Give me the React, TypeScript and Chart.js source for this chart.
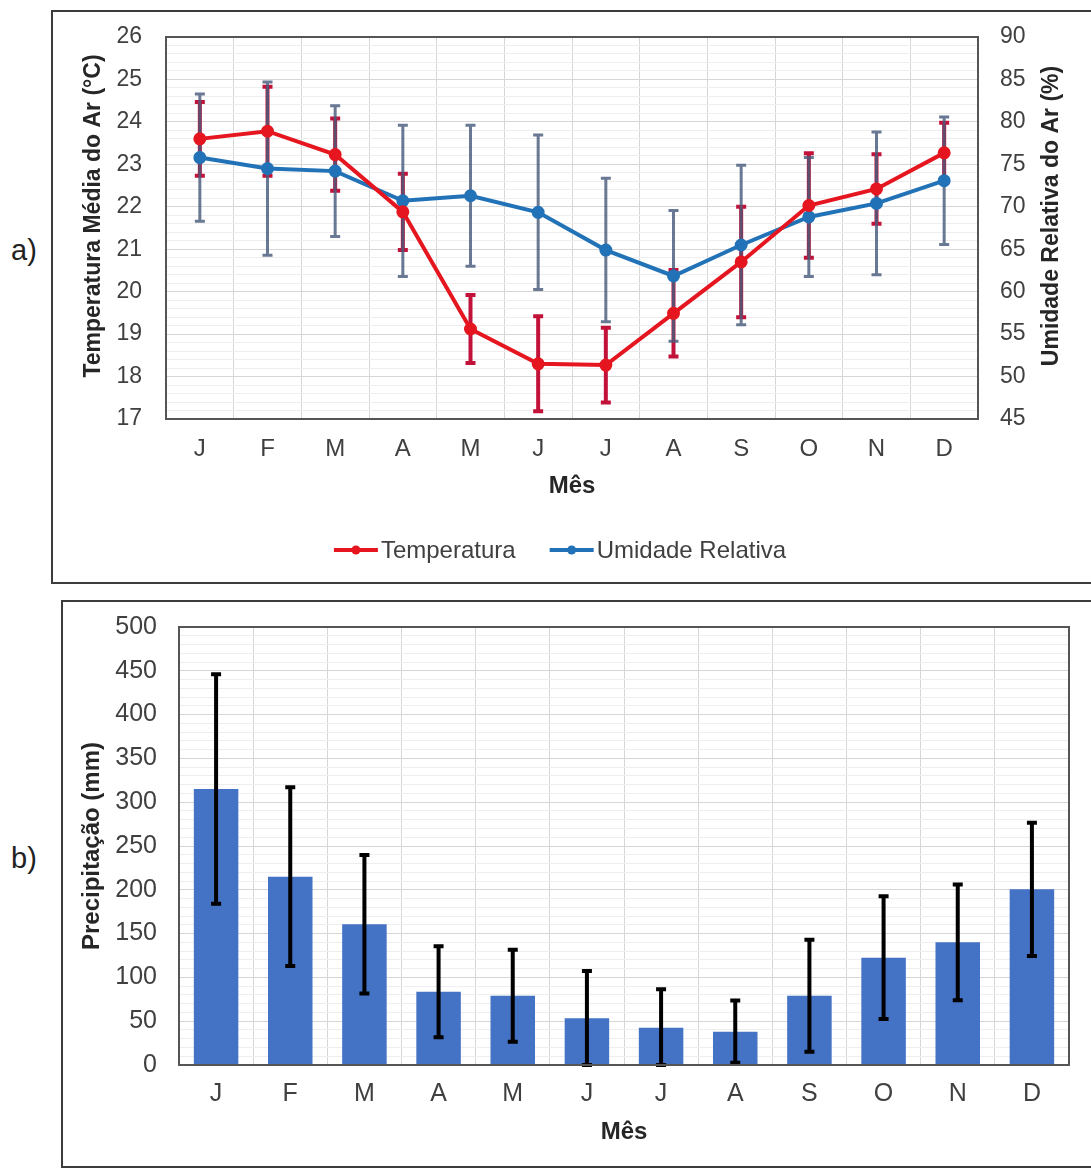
import React, { useEffect, useRef } from 'react';
import { Chart, registerables } from 'chart.js';

Chart.register(...registerables);

// ---------- data ----------
const months = ['J', 'F', 'M', 'A', 'M', 'J', 'J', 'A', 'S', 'O', 'N', 'D'];

const tempValues = [23.6, 23.78, 23.23, 21.88, 19.12, 18.3, 18.27, 19.49, 20.7, 22.03, 22.42, 23.27];
const tempErrors = [0.87, 1.05, 0.85, 0.9, 0.8, 1.12, 0.88, 1.02, 1.3, 1.23, 0.82, 0.71];

const humidityValues = [75.8, 74.5, 74.2, 70.7, 71.3, 69.35, 64.9, 61.85, 65.5, 68.8, 70.4, 73.07];
const humidityErrors = [7.5, 10.2, 7.7, 8.9, 8.3, 9.1, 8.45, 7.7, 9.4, 7.0, 8.4, 7.5];

const precipValues = [315, 215, 160.6, 83.7, 79, 53.3, 42.6, 38, 79, 122.5, 140, 200.5];
const precipErrors = [131, 102, 79, 52, 52.5, 54, 44, 35.5, 64, 70, 66, 76];

const tempAxisRange = [17, 26];
const humidityAxisRange = [45, 90];
const precipAxisRange = [0, 500];

const legendLabels = ['Temperatura', 'Umidade Relativa'];

// ---------- styles ----------
const FONT = '"Liberation Sans", Arial, sans-serif';
const RED = '#e5161f';
const BLUE = '#2272b8';
const RED_ERR = '#c2123a';
const BLUE_ERR = 'rgba(72,92,124,0.82)';
const BAR = '#4472C4';
const GRID = '#d6d6d6';
const MINOR = '#eeeeee';
const TICK = '#404040';
const TITLE = '#262626';

const isMultiple = (v: number, step: number) => Math.abs(v / step - Math.round(v / step)) < 1e-6;

const noPad = (s: any) => {
  s.paddingTop = 0;
  s.paddingBottom = 0;
  s.paddingLeft = 0;
  s.paddingRight = 0;
};

const framePlugin = {
  id: 'frame',
  afterDatasetsDraw(chart: any) {
    const { ctx, chartArea } = chart;
    ctx.save();
    ctx.strokeStyle = '#555555';
    ctx.lineWidth = 2;
    ctx.strokeRect(chartArea.left, chartArea.top, chartArea.right - chartArea.left, chartArea.bottom - chartArea.top);
    ctx.restore();
  },
};

const lineErrorPlugin = {
  id: 'lineErrors',
  beforeDatasetsDraw(chart: any) {
    const { ctx } = chart;
    const x = chart.scales.x;
    const specs = [
      { values: tempValues, errors: tempErrors, axis: 'yT', color: RED_ERR, width: 4, cap: 5 },
      { values: humidityValues, errors: humidityErrors, axis: 'yH', color: BLUE_ERR, width: 3, cap: 5 },
    ];
    ctx.save();
    specs.forEach((s) => {
      const y = chart.scales[s.axis];
      ctx.strokeStyle = s.color;
      ctx.lineWidth = s.width;
      s.values.forEach((v, i) => {
        const px = x.getPixelForValue(i);
        const top = y.getPixelForValue(v + s.errors[i]);
        const bot = y.getPixelForValue(v - s.errors[i]);
        ctx.beginPath();
        ctx.moveTo(px, top);
        ctx.lineTo(px, bot);
        ctx.moveTo(px - s.cap, top);
        ctx.lineTo(px + s.cap, top);
        ctx.moveTo(px - s.cap, bot);
        ctx.lineTo(px + s.cap, bot);
        ctx.stroke();
      });
    });
    ctx.restore();
  },
};

const barErrorPlugin = {
  id: 'barErrors',
  afterDatasetsDraw(chart: any) {
    const { ctx } = chart;
    const x = chart.scales.x;
    const y = chart.scales.y;
    ctx.save();
    ctx.strokeStyle = '#000000';
    ctx.lineWidth = 4;
    precipValues.forEach((v, i) => {
      const px = x.getPixelForValue(i);
      const top = y.getPixelForValue(v + precipErrors[i]);
      const bot = y.getPixelForValue(Math.max(precipAxisRange[0], v - precipErrors[i]));
      ctx.beginPath();
      ctx.moveTo(px, top);
      ctx.lineTo(px, bot);
      ctx.moveTo(px - 5, top);
      ctx.lineTo(px + 5, top);
      ctx.moveTo(px - 5, bot);
      ctx.lineTo(px + 5, bot);
      ctx.stroke();
    });
    ctx.restore();
  },
};

const topExtrasPlugin = {
  id: 'topExtras',
  afterDraw(chart: any) {
    const { ctx, chartArea } = chart;
    const midY = (chartArea.top + chartArea.bottom) / 2 - 12;
    ctx.save();
    // axis titles (both read bottom-to-top)
    ctx.fillStyle = TITLE;
    ctx.font = `bold 23px ${FONT}`;
    ctx.textAlign = 'center';
    ctx.textBaseline = 'middle';
    const titles = [
      { text: 'Temperatura Média do Ar (°C)', x: chartArea.left - 72 },
      { text: 'Umidade Relativa do Ar (%)', x: chartArea.right + 74 },
    ];
    titles.forEach((t) => {
      ctx.save();
      ctx.translate(t.x, midY);
      ctx.rotate(-Math.PI / 2);
      ctx.fillText(t.text, 0, 0);
      ctx.restore();
    });

    // legend
    const colors = [RED, BLUE];
    ctx.font = `24px ${FONT}`;
    ctx.textAlign = 'left';
    const lineW = 44;
    const gapText = 3;
    const gapItems = 34;
    const widths = legendLabels.map((l) => ctx.measureText(l).width);
    const total = widths.reduce((a, w) => a + lineW + gapText + w, 0) + gapItems;
    let cx = (chartArea.left + chartArea.right) / 2 - 12 - total / 2;
    const ly = chartArea.bottom + 131;
    legendLabels.forEach((label, i) => {
      ctx.strokeStyle = colors[i];
      ctx.fillStyle = colors[i];
      ctx.lineWidth = 4;
      ctx.beginPath();
      ctx.moveTo(cx, ly);
      ctx.lineTo(cx + lineW, ly);
      ctx.stroke();
      ctx.beginPath();
      ctx.arc(cx + lineW / 2, ly, 4.5, 0, Math.PI * 2);
      ctx.fill();
      ctx.fillStyle = TICK;
      ctx.fillText(label, cx + lineW + gapText, ly + 1);
      cx += lineW + gapText + widths[i] + gapItems;
    });
    ctx.restore();
  },
};

function TopChart() {
  const ref = useRef<HTMLCanvasElement | null>(null);
  useEffect(() => {
    if (!ref.current) return;
    const chart = new Chart(ref.current, {
      type: 'line',
      data: {
        labels: months,
        datasets: [
          {
            label: legendLabels[0],
            data: tempValues,
            yAxisID: 'yT',
            borderColor: RED,
            backgroundColor: RED,
            pointBackgroundColor: RED,
            pointBorderColor: RED,
            borderWidth: 4,
            pointRadius: 4.5,
            pointHoverRadius: 4.5,
            tension: 0,
          },
          {
            label: legendLabels[1],
            data: humidityValues,
            yAxisID: 'yH',
            borderColor: BLUE,
            backgroundColor: BLUE,
            pointBackgroundColor: BLUE,
            pointBorderColor: BLUE,
            borderWidth: 4,
            pointRadius: 4.5,
            pointHoverRadius: 4.5,
            tension: 0,
          },
        ],
      },
      options: {
        animation: false,
        responsive: false,
        maintainAspectRatio: false,
        layout: { padding: { left: 23, right: 24, top: 25, bottom: 77 } },
        plugins: { legend: { display: false }, tooltip: { enabled: false } },
        scales: {
          x: {
            type: 'category',
            offset: true,
            grid: { offset: true, color: GRID, drawTicks: false },
            border: { display: false },
            ticks: { padding: 16, autoSkip: false, maxRotation: 0, color: TICK, font: { family: FONT, size: 24 } },
            title: { display: true, text: 'Mês', color: TITLE, padding: 4, font: { family: FONT, size: 24, weight: 'bold' } },
            afterFit: (s: any) => { s.height = 86; noPad(s); },
          },
          yT: {
            type: 'linear',
            position: 'left',
            min: tempAxisRange[0],
            max: tempAxisRange[1],
            grid: {
              drawTicks: false,
              color: (c: any) => (isMultiple(c.tick.value, 1) ? GRID : MINOR),
            },
            border: { display: false },
            ticks: {
              stepSize: 0.2,
              autoSkip: false,
              padding: 24,
              color: TICK,
              font: { family: FONT, size: 23 },
              callback: (v: any) => (isMultiple(Number(v), 1) ? String(Math.round(Number(v))) : ''),
            },
            afterFit: (s: any) => { s.width = 90; noPad(s); },
          },
          yH: {
            type: 'linear',
            position: 'right',
            min: humidityAxisRange[0],
            max: humidityAxisRange[1],
            grid: { display: false, drawTicks: false },
            border: { display: false },
            ticks: { stepSize: 5, autoSkip: false, padding: 22, color: TICK, font: { family: FONT, size: 23 } },
            afterFit: (s: any) => { s.width = 89; noPad(s); },
          },
        },
      } as any,
      plugins: [lineErrorPlugin, framePlugin, topExtrasPlugin],
    });
    return () => chart.destroy();
  }, []);
  return <canvas ref={ref} width={1038} height={570} style={{ position: 'absolute', left: 53, top: 12, width: 1038, height: 570 }} />;
}

function BottomChart() {
  const ref = useRef<HTMLCanvasElement | null>(null);
  useEffect(() => {
    if (!ref.current) return;
    const chart = new Chart(ref.current, {
      type: 'bar',
      data: {
        labels: months,
        datasets: [
          {
            label: 'Precipitação',
            data: precipValues,
            backgroundColor: BAR,
            borderWidth: 0,
            barPercentage: 0.6,
            categoryPercentage: 1,
          },
        ],
      },
      options: {
        animation: false,
        responsive: false,
        maintainAspectRatio: false,
        layout: { padding: { left: 11, right: 22, top: 25, bottom: 15 } },
        plugins: { legend: { display: false }, tooltip: { enabled: false } },
        scales: {
          x: {
            grid: { offset: true, color: GRID, drawTicks: false },
            border: { display: false },
            ticks: { padding: 14, autoSkip: false, maxRotation: 0, color: TICK, font: { family: FONT, size: 25 } },
            title: { display: true, text: 'Mês', color: TITLE, padding: 4, font: { family: FONT, size: 24, weight: 'bold' } },
            afterFit: (s: any) => { s.height = 86; noPad(s); },
          },
          y: {
            min: precipAxisRange[0],
            max: precipAxisRange[1],
            grid: {
              drawTicks: false,
              color: (c: any) => (isMultiple(c.tick.value, 50) ? GRID : MINOR),
            },
            border: { display: false },
            ticks: {
              stepSize: 10,
              autoSkip: false,
              padding: 22,
              color: TICK,
              font: { family: FONT, size: 25 },
              callback: (v: any) => (isMultiple(Number(v), 50) ? String(Math.round(Number(v))) : ''),
            },
            title: { display: true, text: 'Precipitação (mm)', color: TITLE, padding: 4, font: { family: FONT, size: 24, weight: 'bold' } },
            afterFit: (s: any) => { s.width = 105; noPad(s); },
          },
        },
      } as any,
      plugins: [barErrorPlugin, framePlugin],
    });
    return () => chart.destroy();
  }, []);
  return <canvas ref={ref} width={1028} height={564} style={{ position: 'absolute', left: 63, top: 602, width: 1028, height: 564 }} />;
}

export default function App() {
  const boxBorder = '2px solid #3c3c3c';
  return (
    <div style={{ position: 'absolute', left: 0, top: 0, width: 1091, height: 1169, overflow: 'hidden', background: '#ffffff', fontFamily: FONT }}>
      <div style={{ position: 'absolute', left: 51, top: 10, width: 1100, height: 574, border: boxBorder, boxSizing: 'border-box' }} />
      <div style={{ position: 'absolute', left: 61, top: 600, width: 1100, height: 568, border: boxBorder, boxSizing: 'border-box' }} />
      <div style={{ position: 'absolute', left: 11, top: 234, fontSize: 29, color: '#222' }}>a)</div>
      <div style={{ position: 'absolute', left: 11, top: 842, fontSize: 29, color: '#222' }}>b)</div>
      <TopChart />
      <BottomChart />
    </div>
  );
}
